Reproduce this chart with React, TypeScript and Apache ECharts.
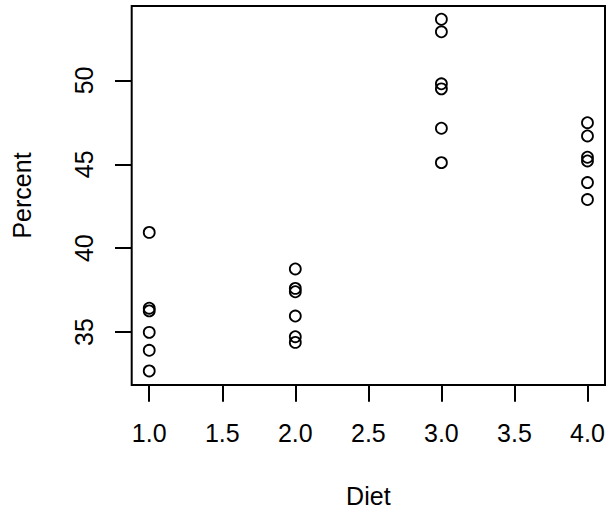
import React, { useEffect, useRef } from "react";
import * as echarts from "echarts";

const diets = [1, 2, 3, 4];
const diet1 = [40.94, 36.42, 36.26, 34.98, 33.91, 32.68];
const diet2 = [38.76, 37.6, 37.4, 35.95, 34.72, 34.38];
const diet3 = [53.65, 52.9, 49.8, 49.5, 47.15, 45.1];
const diet4 = [47.48, 46.69, 45.42, 45.2, 43.91, 42.9];
const groups = [diet1, diet2, diet3, diet4];
const xTicks = [1, 1.5, 2, 2.5, 3, 3.5, 4];
const yTicks = [35, 40, 45, 50];

export default function App() {
  const ref = useRef<HTMLDivElement>(null);
  useEffect(() => {
    if (!ref.current) return;
    const chart = echarts.init(ref.current, null, { renderer: "svg" });
    const data: number[][] = [];
    groups.forEach((g, i) => g.forEach((v) => data.push([diets[i], v])));
    const font = "Liberation Sans, Arial, Helvetica, sans-serif";
    chart.setOption({
      animation: false,
      backgroundColor: "#fff",
      grid: {
        left: 131.7,
        right: 5,
        top: 6,
        bottom: 129,
        show: true,
        borderColor: "#000",
        borderWidth: 2,
        backgroundColor: "transparent",
      },
      xAxis: {
        type: "value",
        min: 0.88,
        max: 4.12,
        name: "Diet",
        nameLocation: "middle",
        nameGap: 98,
        nameTextStyle: { fontFamily: font, fontSize: 25, color: "#000" },
        axisLine: { show: false },
        splitLine: { show: false },
        axisTick: {
          show: true,
          inside: false,
          length: 16.7,
          lineStyle: { color: "#000", width: 2 },
          customValues: xTicks,
        },
        axisLabel: {
          show: true,
          margin: 35,
          fontFamily: font,
          fontSize: 25,
          color: "#000",
          customValues: xTicks,
          formatter: (v: number) => v.toFixed(1),
        },
      },
      yAxis: {
        type: "value",
        min: 31.84,
        max: 54.44,
        name: "Percent",
        nameLocation: "middle",
        nameGap: 97,
        nameTextStyle: { fontFamily: font, fontSize: 25, color: "#000" },
        axisLine: { show: false },
        splitLine: { show: false },
        axisTick: {
          show: true,
          inside: false,
          length: 16.7,
          lineStyle: { color: "#000", width: 2 },
          customValues: yTicks,
        },
        axisLabel: {
          show: true,
          margin: 35,
          rotate: 90,
          align: "center",
          verticalAlign: "bottom",
          fontFamily: font,
          fontSize: 25,
          color: "#000",
          customValues: yTicks,
          formatter: (v: number) => String(v),
        },
      },
      series: [
        {
          type: "scatter",
          data,
          symbol: "circle",
          symbolSize: 11,
          itemStyle: {
            color: "transparent",
            borderColor: "#000",
            borderWidth: 1.8,
            opacity: 1,
          },
          emphasis: { disabled: true },
        },
      ],
    });
    return () => chart.dispose();
  }, []);
  return (
    <div
      ref={ref}
      style={{ position: "absolute", left: 0, top: 0, width: 610, height: 514 }}
    />
  );
}
